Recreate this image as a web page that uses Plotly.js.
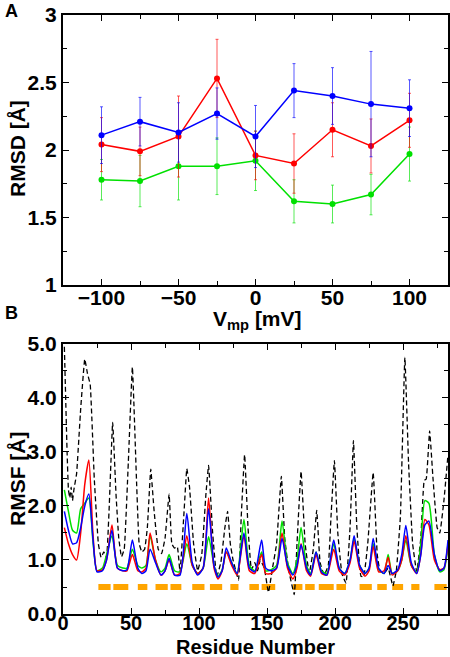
<!DOCTYPE html>
<html>
<head>
<meta charset="utf-8">
<script src="https://cdn.plot.ly/plotly-3.0.1.min.js"></script>
<style>html,body{margin:0;padding:0;background:#fff;}#chart{width:450px;height:657px;}</style>
</head>
<body>
<div id="chart"></div>
<script>
// ---------- Panel A: RMSD vs membrane potential ----------
const voltages = [-100, -75, -50, -25, 0, 25, 50, 75, 100];
const rmsdBlue = [2.11, 2.21, 2.13, 2.27, 2.10, 2.44, 2.40, 2.34, 2.31];
const rmsdBlueErr = [0.21, 0.18, 0.22, 0.19, 0.23, 0.20, 0.21, 0.39, 0.21];
const rmsdRed = [2.04, 1.99, 2.10, 2.53, 1.96, 1.90, 2.15, 2.03, 2.22];
const rmsdRedErr = [0.20, 0.18, 0.30, 0.29, 0.18, 0.22, 0.20, 0.20, 0.20];
const rmsdGreen = [1.78, 1.77, 1.88, 1.88, 1.92, 1.62, 1.60, 1.67, 1.97];
const rmsdGreenErr = [0.15, 0.19, 0.25, 0.21, 0.22, 0.16, 0.14, 0.15, 0.20];

// ---------- Panel B: RMSF per residue ----------
const residues = [1, 4, 7, 10, 13, 16, 19, 22, 25, 29, 32, 36, 40, 44, 47, 51, 55, 58, 61, 64,
  68, 72, 75, 78, 82, 86, 91, 95, 99, 103, 107, 111, 114, 117, 120, 124, 128, 133, 137, 141,
  146, 149, 153, 157, 161, 165, 169, 172, 175, 179, 182, 186, 190, 194, 199, 203, 207, 211, 214, 218,
  222, 225, 228, 232, 236, 239, 242, 246, 249, 252, 256, 260, 263, 266, 269, 273, 277, 280, 283];
const rmsfBlue = [1.90, 1.55, 1.30, 1.32, 1.60, 2.00, 2.22, 1.40, 0.78, 0.80, 1.00, 1.55, 0.85, 0.80, 0.82, 1.37, 0.85, 0.75, 0.80, 1.20,
  0.95, 0.72, 0.80, 1.03, 0.72, 0.72, 1.86, 0.95, 0.72, 0.85, 1.95, 0.90, 0.68, 0.80, 1.22, 0.95, 0.75, 1.50, 0.85, 0.78,
  1.37, 0.85, 0.80, 0.85, 1.40, 0.90, 0.72, 0.90, 1.28, 0.85, 0.72, 1.15, 0.78, 0.72, 1.37, 0.85, 0.75, 1.00, 1.45, 0.90,
  0.75, 0.85, 1.40, 0.85, 0.75, 0.90, 0.75, 0.82, 1.10, 1.64, 0.95, 0.75, 1.10, 1.65, 1.72, 1.10, 0.80, 0.85, 1.37];
const rmsfRed = [1.60, 1.30, 1.10, 1.00, 1.50, 2.40, 2.85, 1.50, 0.80, 0.82, 1.00, 1.65, 0.85, 0.80, 0.80, 1.10, 0.80, 0.78, 0.85, 1.50,
  1.00, 0.72, 0.80, 1.00, 0.72, 0.75, 1.45, 0.90, 0.75, 0.85, 2.15, 0.85, 0.65, 0.80, 1.15, 0.90, 0.72, 1.45, 0.80, 0.75,
  1.10, 0.75, 0.75, 0.85, 1.50, 0.85, 0.65, 0.85, 1.30, 0.80, 0.70, 1.10, 0.75, 0.72, 1.20, 0.80, 0.72, 0.95, 1.35, 0.85,
  0.70, 0.80, 1.25, 0.78, 0.80, 1.05, 0.72, 0.80, 1.00, 1.45, 0.90, 0.75, 1.10, 1.75, 1.65, 1.00, 0.82, 0.85, 1.30];
const rmsfGreen = [2.30, 1.90, 1.55, 1.50, 1.95, 2.05, 2.15, 1.35, 0.80, 0.85, 1.10, 1.45, 0.90, 0.85, 0.85, 1.20, 0.90, 0.85, 0.90, 1.45,
  1.00, 0.78, 0.85, 1.10, 0.80, 0.78, 1.30, 0.90, 0.75, 0.85, 1.43, 0.90, 0.70, 0.82, 1.15, 0.95, 0.75, 1.75, 0.90, 0.80,
  1.15, 0.80, 0.82, 0.90, 1.72, 0.95, 0.75, 1.00, 1.60, 0.90, 0.75, 1.15, 0.80, 0.75, 1.30, 0.85, 0.75, 1.00, 1.40, 0.90,
  0.75, 0.85, 1.30, 0.82, 0.75, 1.10, 0.75, 0.80, 1.00, 1.37, 0.90, 0.78, 1.30, 2.10, 2.05, 1.10, 0.78, 0.82, 1.25];

const residuesRef = [1, 3, 4, 5, 6, 7, 8, 10, 13, 16, 18, 20, 23, 26, 28, 30, 32, 34, 36.5, 39,
  41, 43, 45, 48, 51, 54, 56, 58, 60, 62, 64.5, 67, 70, 72.5, 75, 78, 80, 82, 84, 86,
  89, 91, 93, 96, 99, 102, 105, 107, 110, 113, 116, 119, 121, 123, 125, 129, 131, 133.5, 136, 138.5,
  141, 143, 145, 148, 151, 154, 157, 160.5, 163, 166, 170, 172, 175, 178, 181, 184, 186.5, 189, 192, 195,
  197, 199.5, 202, 205, 208, 211, 213.5, 216, 219, 221, 224, 228, 231, 233, 236, 239, 242.5, 245, 248, 251.3,
  254, 257, 260, 263, 265.5, 267, 269.5, 272, 275, 277, 280, 283];
const rmsfRef = [4.95, 3.00, 2.30, 2.15, 2.35, 2.10, 2.30, 2.60, 3.80, 4.72, 4.45, 4.25, 2.50, 1.30, 1.05, 1.15, 1.05, 2.00, 3.55, 2.20,
  1.40, 1.06, 1.20, 2.80, 4.57, 2.50, 1.30, 1.15, 1.20, 1.60, 2.68, 1.90, 1.20, 1.12, 1.40, 2.22, 1.30, 1.22, 1.25, 0.78,
  1.90, 2.69, 2.35, 1.30, 0.80, 1.10, 2.20, 2.75, 1.50, 0.69, 0.95, 1.60, 1.90, 1.30, 1.00, 0.63, 1.80, 2.95, 1.60, 0.82,
  0.95, 0.80, 1.00, 0.85, 0.40, 0.85, 1.30, 2.55, 1.40, 0.80, 0.36, 1.30, 2.64, 1.30, 0.75, 1.20, 1.92, 0.95, 0.72, 0.90,
  1.80, 2.84, 1.50, 0.75, 0.57, 1.60, 3.21, 1.60, 0.70, 0.69, 1.30, 2.62, 1.10, 0.80, 0.75, 0.85, 0.52, 0.80, 1.80, 4.75,
  2.80, 1.30, 0.78, 1.40, 2.47, 2.50, 3.39, 2.50, 1.60, 1.50, 2.10, 2.95];

// beta-strand segments (orange bars)
const strandStart = [26, 37, 55, 68, 79, 95, 108, 123, 137, 146, 169, 178, 188, 201, 218, 231, 242, 256, 273];
const strandEnd   = [35, 48, 62, 77, 87, 104, 117, 129, 144, 156, 176, 185, 199, 208, 227, 238, 250, 262, 282];
const strandLevel = 0.5;

// ---------- build traces ----------
const FONT = 'Liberation Sans, Arial, Helvetica, sans-serif';
const BLUE = '#0000ff', RED = '#ff0000', GREEN = '#00e000', ORANGE = '#ffa500';
const ERR = {'#0000ff': 'rgba(0,0,255,0.65)', '#ff0000': 'rgba(255,0,0,0.65)', '#00e000': 'rgba(0,224,0,0.65)'};

function rmsdTrace(y, err, color) {
  return {
    x: voltages, y: y, xaxis: 'x', yaxis: 'y', type: 'scatter', mode: 'lines+markers',
    line: {color: color, width: 1.5},
    marker: {color: color, size: 6, symbol: 'circle'},
    error_y: {type: 'data', array: err, visible: true, color: ERR[color], thickness: 1, width: 1.5},
    showlegend: false, cliponaxis: false
  };
}
function rmsfTrace(x, y, color, dash, width, smooth) {
  return {
    x: x, y: y, xaxis: 'x2', yaxis: 'y2', type: 'scatter', mode: 'lines',
    line: {color: color, width: width, dash: dash, shape: 'spline', smoothing: smooth},
    showlegend: false
  };
}
const sx = [], sy = [];
for (let i = 0; i < strandStart.length; i++) {
  sx.push(strandStart[i], strandEnd[i], null);
  sy.push(strandLevel, strandLevel, null);
}

const data = [
  rmsdTrace(rmsdGreen, rmsdGreenErr, GREEN),
  rmsdTrace(rmsdRed, rmsdRedErr, RED),
  rmsdTrace(rmsdBlue, rmsdBlueErr, BLUE),
  {x: sx, y: sy, xaxis: 'x2', yaxis: 'y2', type: 'scatter', mode: 'lines',
   line: {color: ORANGE, width: 6}, showlegend: false},
  rmsfTrace(residuesRef, rmsfRef, '#000000', '5px,3px', 1.3, 0.3),
  rmsfTrace(residues, rmsfGreen, GREEN, 'solid', 1.5, 0.6),
  rmsfTrace(residues, rmsfRed, RED, 'solid', 1.5, 0.6),
  rmsfTrace(residues, rmsfBlue, BLUE, 'solid', 1.5, 0.6)
];

const tickFont = {family: FONT, size: 21, color: '#000', weight: 'bold'};
const titleFont = {family: FONT, size: 21, color: '#000', weight: 'bold'};
const axisCommon = {
  showline: true, linecolor: '#000', linewidth: 2, mirror: 'allticks',
  ticks: 'inside', ticklen: 6, tickwidth: 1, tickcolor: '#000',
  showgrid: false, zeroline: false, tickfont: tickFont, automargin: false, fixedrange: true
};

// plot area in page pixels: left 63, right 448, top 15, bottom 614
const px = v => (v - 63) / 385;
const py = v => (614 - v) / 599;
function label(text, x, y, opts) {
  return Object.assign({text: text, xref: 'paper', yref: 'paper', x: px(x), y: py(y),
    showarrow: false, font: titleFont, xanchor: 'center', yanchor: 'middle'}, opts || {});
}

const layout = {
  width: 450, height: 657,
  margin: {l: 63, r: 2, t: 15, b: 43},
  paper_bgcolor: '#fff', plot_bgcolor: '#fff',
  font: {family: FONT, color: '#000'},
  showlegend: false,
  xaxis: Object.assign({}, axisCommon, {
    domain: [0, 1], anchor: 'y', range: [-125, 125], dtick: 50, tick0: 0,
    ticklabelstandoff: -7,
    minor: {dtick: 25, ticks: 'inside', ticklen: 4, tickcolor: '#000'}
  }),
  yaxis: Object.assign({}, axisCommon, {
    domain: [0.5492, 1], anchor: 'x', range: [1, 3], dtick: 0.5,
    minor: {dtick: 0.25, ticks: 'inside', ticklen: 4, tickcolor: '#000'}
  }),
  xaxis2: Object.assign({}, axisCommon, {
    domain: [0, 1], anchor: 'y2', range: [0, 283], dtick: 50, tick0: 0,
    ticklabelstandoff: -10,
    tickfont: {family: FONT, size: 20, color: '#000', weight: 'bold'},
    minor: {dtick: 25, ticks: 'inside', ticklen: 4, tickcolor: '#000'}
  }),
  yaxis2: Object.assign({}, axisCommon, {
    domain: [0, 0.4508], anchor: 'x2', range: [0, 5], dtick: 1, tickformat: '.1f',
    minor: {dtick: 0.5, ticks: 'inside', ticklen: 4, tickcolor: '#000'}
  }),
  annotations: [
    label('V<sub>mp</sub> [mV]', 257, 305, {yanchor: 'top'}),
    label('Residue Number', 256, 634.5, {yanchor: 'top', borderpad: 0,
      font: {family: FONT, size: 20, color: '#000', weight: 'bold'}}),
    label('RMSD [Å]', 17, 149, {textangle: -90}),
    label('RMSF [Å]', 17, 479, {textangle: -90}),
    label('A', 3, 11, {xanchor: 'left', font: {family: FONT, size: 18, color: '#000', weight: 'bold'}}),
    label('B', 3, 313, {xanchor: 'left', font: {family: FONT, size: 18, color: '#000', weight: 'bold'}})
  ]
};

Plotly.newPlot('chart', data, layout, {staticPlot: true, displayModeBar: false});
</script>
</body>
</html>
